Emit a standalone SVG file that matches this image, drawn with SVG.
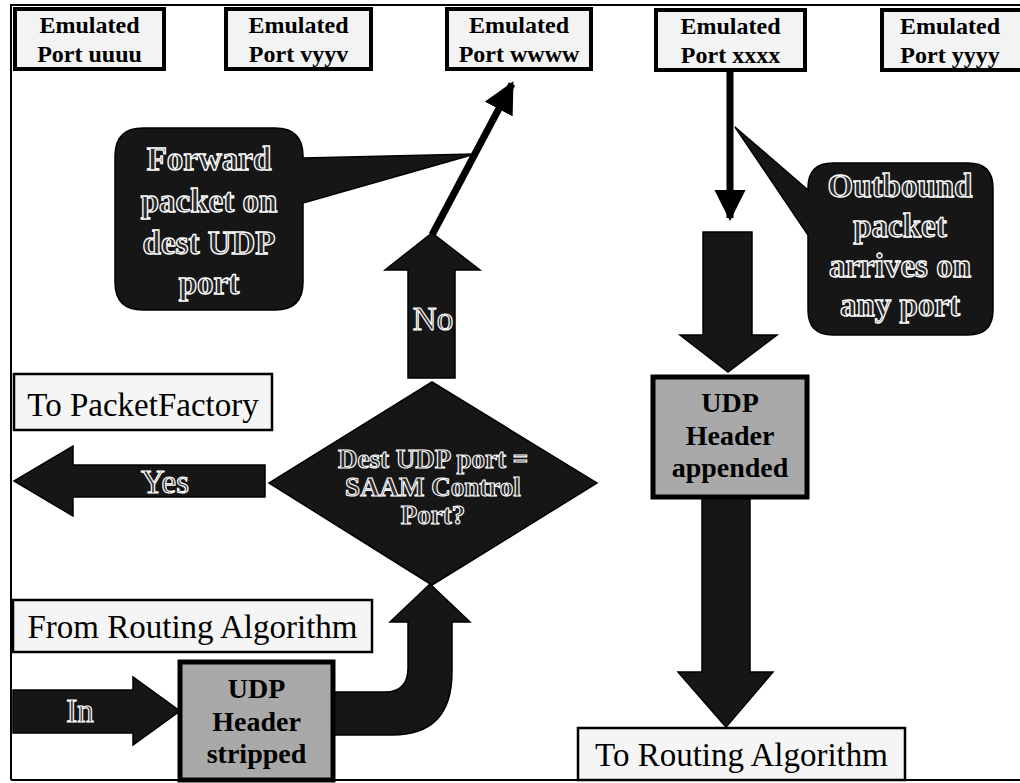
<svg xmlns="http://www.w3.org/2000/svg" width="1020" height="783" viewBox="0 0 1020 783">
<defs>
<style>
.port{fill:#f3f3f3;stroke:#000;stroke-width:4}
.ptxt{font-family:"Liberation Serif",serif;font-weight:bold;font-size:24px;fill:#000;text-anchor:middle}
.lbl{fill:#f5f5f5;stroke:#000;stroke-width:2.5}
.ltxt{font-family:"Liberation Serif",serif;font-size:33px;fill:#000;text-anchor:middle}
.udp{fill:#a9a9a9;stroke:#000;stroke-width:5}
.utxt{font-family:"Liberation Serif",serif;font-weight:bold;font-size:28px;fill:#000;text-anchor:middle}
.dark{fill:#161616;stroke:#000;stroke-width:1.5}
.etxt{font-family:"Liberation Serif",serif;font-weight:bold;font-size:33px;fill:#2a2a2a;stroke:#fff;stroke-width:1.3;text-anchor:middle}
.dtxt{font-family:"Liberation Serif",serif;font-weight:bold;font-size:27px;fill:#2a2a2a;stroke:#fff;stroke-width:1.1;text-anchor:middle}
.atxt{font-family:"Liberation Serif",serif;font-size:33px;fill:#2a2a2a;stroke:#fff;stroke-width:1.2;text-anchor:middle}
.thin{stroke:#000;stroke-width:7;fill:none}
</style>
<marker id="ah" viewBox="0 0 10 10" refX="9" refY="5" markerWidth="4.5" markerHeight="4.5" orient="auto" markerUnits="strokeWidth">
<path d="M0,0 L10,5 L0,10 Z" fill="#000"/>
</marker>
</defs>
<rect width="1020" height="783" fill="#fff"/>
<g id="frame" fill="none" stroke="#000" stroke-width="2">
<path d="M11,780 V5 H1020"/>
<path d="M11,780 H1020"/>
</g>

<g id="connectors">
<line class="thin" x1="432" y1="235" x2="512" y2="84" marker-end="url(#ah)"/>
<line class="thin" x1="730" y1="70" x2="730" y2="218" marker-end="url(#ah)"/>
<path class="dark" d="M408,378 V270 H385 L432,233 L480,270 H455 V378 Z"/>
<path class="dark" d="M265,465 H73 V446 L14,481 L73,516 V497 H265 Z"/>
<path class="dark" d="M13,690 H133 V677 L180,711 L133,745 V733 H13 Z"/>
<path class="dark" d="M333,692 H385 Q408,692 408,668 V622 H390 L430,584 L470,622 H452 V672 Q452,735 392,735 H333 Z"/>
<path class="dark" d="M703,232 H752 V335 H777 L728,372 L680,335 H703 Z"/>
<path class="dark" d="M702,497 H750 V672 H773 L726,727 L678,672 H702 Z"/>
</g>

<g id="port-uuuu">
<rect class="port" x="15" y="9" width="149" height="60"/>
<text class="ptxt" x="89.5" y="33">Emulated</text>
<text class="ptxt" x="89.5" y="62">Port uuuu</text>
</g>
<g id="port-vyyv">
<rect class="port" x="226" y="9" width="145" height="60"/>
<text class="ptxt" x="298.5" y="33">Emulated</text>
<text class="ptxt" x="298.5" y="62">Port vyyv</text>
</g>
<g id="port-wwww">
<rect class="port" x="447" y="9" width="144" height="60"/>
<text class="ptxt" x="519" y="33">Emulated</text>
<text class="ptxt" x="519" y="62">Port wwww</text>
</g>
<g id="port-xxxx">
<rect class="port" x="656" y="10" width="149" height="60"/>
<text class="ptxt" x="730.5" y="34">Emulated</text>
<text class="ptxt" x="730.5" y="63">Port xxxx</text>
</g>
<g id="port-yyyy">
<rect class="port" x="882" y="10" width="140" height="60"/>
<text class="ptxt" x="950" y="34">Emulated</text>
<text class="ptxt" x="950" y="63">Port yyyy</text>
</g>

<g id="callout-forward">
<path class="dark" d="M143,128 H275 Q303,128 303,156 V158 L475,154 L303,203 V282 Q303,310 275,310 H143 Q115,310 115,282 V156 Q115,128 143,128 Z"/>
<text class="etxt" x="209" y="170">Forward</text>
<text class="etxt" x="209" y="212">packet on</text>
<text class="etxt" x="209" y="254">dest UDP</text>
<text class="etxt" x="209" y="294">port</text>
</g>

<g id="callout-outbound">
<path class="dark" d="M833,163 H968 Q993,163 993,188 V310 Q993,335 968,335 H833 Q808,335 808,310 V235 L735,127 L808,190 V188 Q808,163 833,163 Z"/>
<text class="etxt" x="900" y="197">Outbound</text>
<text class="etxt" x="900" y="237">packet</text>
<text class="etxt" x="900" y="277">arrives on</text>
<text class="etxt" x="900" y="316">any port</text>
</g>

<g id="label-no">
<text class="atxt" x="433" y="330">No</text>
</g>
<g id="label-yes">
<text class="atxt" x="165" y="493">Yes</text>
</g>
<g id="label-in">
<text class="atxt" x="80" y="722">In</text>
</g>

<g id="to-packetfactory">
<rect class="lbl" x="14" y="374" width="258" height="56"/>
<text class="ltxt" x="143" y="416">To PacketFactory</text>
</g>

<g id="decision">
<path class="dark" d="M432,382 L597,483 L432,585 L269,483 Z"/>
<text class="dtxt" x="433" y="468">Dest UDP port =</text>
<text class="dtxt" x="433" y="496">SAAM Control</text>
<text class="dtxt" x="433" y="524">Port?</text>
</g>

<g id="from-routing">
<rect class="lbl" x="13" y="600" width="359" height="52"/>
<text class="ltxt" x="192.5" y="638">From Routing Algorithm</text>
</g>

<g id="udp-stripped">
<rect class="udp" x="180" y="662" width="153" height="118"/>
<text class="utxt" x="256.5" y="698">UDP</text>
<text class="utxt" x="256.5" y="731">Header</text>
<text class="utxt" x="256.5" y="763">stripped</text>
</g>

<g id="udp-appended">
<rect class="udp" x="653" y="377" width="154" height="120"/>
<text class="utxt" x="730" y="412">UDP</text>
<text class="utxt" x="730" y="445">Header</text>
<text class="utxt" x="730" y="477">appended</text>
</g>

<g id="to-routing">
<rect class="lbl" x="578" y="728" width="327" height="52"/>
<text class="ltxt" x="741.5" y="766">To Routing Algorithm</text>
</g>
</svg>
